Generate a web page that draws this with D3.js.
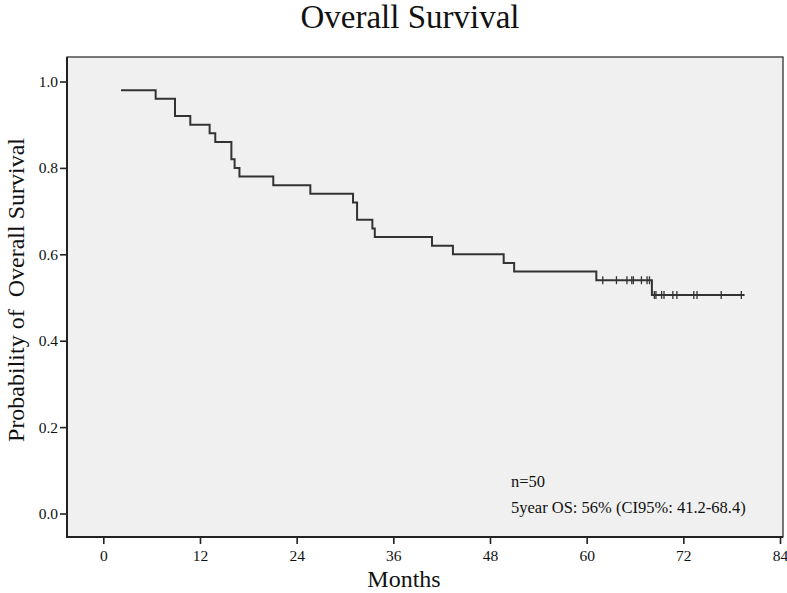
<!DOCTYPE html>
<html lang="en">
<head>
<meta charset="utf-8" />
<title>Overall Survival</title>
<style>
html,body{margin:0;background:#fff}
svg{display:block;font-family:"Liberation Serif","Times New Roman",serif}
</style>
<script src="https://cdn.jsdelivr.net/npm/d3@7/dist/d3.min.js"></script>
</head>
<body>
<div id="chart"></div>
<script>
/* ---------------- data ---------------- */
const stepTimes = [2.2, 6.5, 8.9, 10.8, 13.2, 13.9, 15.9, 16.3, 16.9, 21.1, 25.7,
                   31.0, 31.5, 33.4, 33.7, 40.8, 43.4, 49.7, 51.0, 61.2, 68.1];
const stepSurv  = [0.98, 0.96, 0.92, 0.90, 0.88, 0.86, 0.82, 0.80, 0.78, 0.76, 0.74,
                   0.72, 0.68, 0.66, 0.64, 0.62, 0.60, 0.58, 0.56, 0.54, 0.506];
const censorTimes = [62.0, 63.7, 65.0, 65.6, 65.8, 66.8, 67.5, 67.8,
                     68.4, 68.6, 69.3, 69.6, 70.7, 71.2, 73.3, 73.7, 76.7, 79.2];
const endTime = 79.6;
const xTicks = [0, 12, 24, 36, 48, 60, 72, 84];
const yTicks = [0, 0.2, 0.4, 0.6, 0.8, 1.0];
const notes = ["n=50", "5year OS: 56% (CI95%: 41.2-68.4)"];

/* ---------------- layout ---------------- */
const W = 787, H = 593;
const box = {left: 67, right: 783, top: 57, bottom: 537};

const svg = d3.select("#chart").append("svg")
  .attr("width", W).attr("height", H);

const x = d3.scaleLinear().domain([0, 84]).range([103.3, 780]);
const y = d3.scaleLinear().domain([0, 1]).range([513.5, 81.5]);

// plot panel
svg.append("rect")
  .attr("x", box.left).attr("y", box.top)
  .attr("width", box.right - box.left).attr("height", box.bottom - box.top)
  .attr("fill", "#f0f0f0").attr("stroke", "#222").attr("stroke-width", 1.2);

// axes
const yAxis = svg.append("g")
  .attr("transform", `translate(${box.left},0)`)
  .call(d3.axisLeft(y).tickValues(yTicks).tickFormat(d3.format(".1f")).tickSize(7).tickPadding(2));
const xAxis = svg.append("g")
  .attr("transform", `translate(0,${box.bottom})`)
  .call(d3.axisBottom(x).tickValues(xTicks).tickSize(7).tickPadding(6));

[xAxis, yAxis].forEach(g => {
  g.select(".domain").remove();
  g.selectAll("line").attr("stroke", "#222").attr("stroke-width", 1.6);
  g.selectAll("text").attr("fill", "#111").attr("font-size", 15.5)
    .attr("font-family", "Liberation Serif, serif");
});

svg.append("line")
  .attr("x1", box.left).attr("x2", box.left)
  .attr("y1", box.top).attr("y2", box.bottom + 1)
  .attr("stroke", "#222").attr("stroke-width", 2);
svg.append("line")
  .attr("x1", box.left - 1).attr("x2", box.right)
  .attr("y1", box.bottom).attr("y2", box.bottom)
  .attr("stroke", "#222").attr("stroke-width", 2);

/* ---------------- KM curve ---------------- */
const pts = stepTimes.map((t, i) => [t, stepSurv[i]]);
pts.push([endTime, stepSurv[stepSurv.length - 1]]);

const survAt = t => {
  let s = stepSurv[0];
  stepTimes.forEach((st, i) => { if (st <= t) s = stepSurv[i]; });
  return s;
};

svg.append("path")
  .datum(pts)
  .attr("fill", "none").attr("stroke", "#333").attr("stroke-width", 2)
  .attr("d", d3.line().x(d => x(d[0])).y(d => y(d[1])).curve(d3.curveStepAfter));

svg.append("g").selectAll("line").data(censorTimes).join("line")
  .attr("x1", d => x(d)).attr("x2", d => x(d))
  .attr("y1", d => y(survAt(d)) - 4).attr("y2", d => y(survAt(d)) + 4)
  .attr("stroke", "#333").attr("stroke-width", 1.3);

/* ---------------- texts ---------------- */
svg.append("text")
  .attr("x", 410).attr("y", 28).attr("text-anchor", "middle")
  .attr("font-size", 33).attr("fill", "#111").text("Overall Survival");

svg.append("text")
  .attr("x", 404).attr("y", 587).attr("text-anchor", "middle")
  .attr("font-size", 24).attr("fill", "#111").text("Months");

svg.append("text")
  .attr("transform", "translate(24,290) rotate(-90)")
  .attr("text-anchor", "middle").attr("xml:space", "preserve")
  .attr("font-size", 24).attr("fill", "#111")
  .text("Probability of  Overall Survival");

svg.append("g").selectAll("text").data(notes).join("text")
  .attr("x", 511).attr("y", (d, i) => 487 + i * 26)
  .attr("font-size", 16.5).attr("fill", "#111")
  .text(d => d);
</script>
</body>
</html>
